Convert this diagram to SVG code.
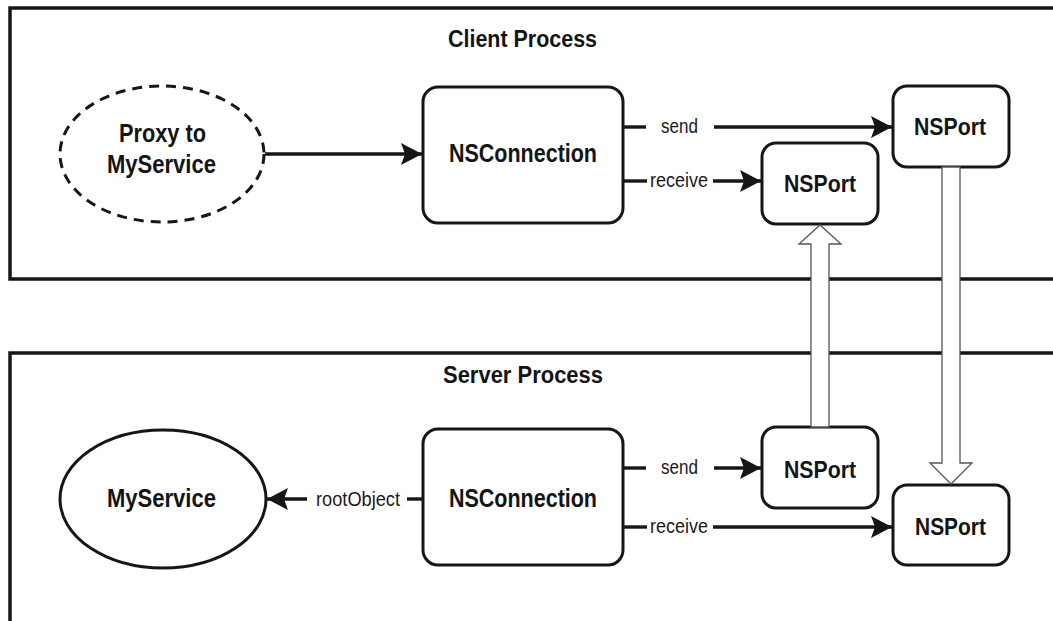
<svg xmlns="http://www.w3.org/2000/svg" width="1053" height="621" viewBox="0 0 1053 621">
  <style>
    .panel { fill: none; stroke: #161616; stroke-width: 3.5; }
    .box { fill: #fff; stroke: #161616; stroke-width: 3; }
    .wire { fill: none; stroke: #161616; stroke-width: 3.4; }
    .hollow { fill: #fff; stroke: #555; stroke-width: 1.3; stroke-linejoin: miter; }
    .title { font-family: "Liberation Sans Narrow", "Liberation Sans", Arial, sans-serif; font-weight: bold; font-size: 23.5px; fill: #141414; }
    .name { font-family: "Liberation Sans Narrow", "Liberation Sans", Arial, sans-serif; font-weight: bold; font-size: 26px; fill: #141414; }
    .port { font-size: 24.5px; }
    .label { font-family: "Liberation Sans Narrow", "Liberation Sans", Arial, sans-serif; font-size: 20px; fill: #1a1a1a; }
  </style>
  <defs>
    <marker id="head" markerUnits="userSpaceOnUse" markerWidth="24" markerHeight="24" refX="21" refY="11" orient="auto">
      <path d="M0,0 L21,11 L0,22 L4,11 z" fill="#161616"/>
    </marker>
  </defs>

  <rect width="1053" height="621" fill="#fff"/>

  <!-- process panels (open on the right) -->
  <g id="client-process">
    <path class="panel" d="M1053,8 H10 V279 H1053"/>
    <text class="title" x="448" y="47" textLength="149" lengthAdjust="spacingAndGlyphs">Client Process</text>
  </g>
  <g id="server-process">
    <path class="panel" d="M1053,353 H10 V621"/>
    <text class="title" x="443" y="383" textLength="160" lengthAdjust="spacingAndGlyphs">Server Process</text>
  </g>

  <!-- client side nodes -->
  <g id="proxy">
    <ellipse cx="162" cy="154" rx="102" ry="68" fill="#fff" stroke="#161616" stroke-width="3" stroke-dasharray="10,7"/>
    <text class="name" x="119" y="142" textLength="87" lengthAdjust="spacingAndGlyphs">Proxy to</text>
    <text class="name" x="107" y="173" textLength="109" lengthAdjust="spacingAndGlyphs">MyService</text>
  </g>
  <g id="client-connection">
    <rect class="box" x="423" y="87" width="200" height="136" rx="15"/>
    <text class="name" x="449" y="162" textLength="148" lengthAdjust="spacingAndGlyphs">NSConnection</text>
  </g>
  <g id="client-receive-port">
    <rect class="box" x="762" y="143" width="116" height="81" rx="14"/>
    <text class="name port" x="784" y="192" textLength="72" lengthAdjust="spacingAndGlyphs">NSPort</text>
  </g>
  <g id="client-send-port">
    <rect class="box" x="893" y="86" width="116" height="81" rx="14"/>
    <text class="name port" x="914" y="135" textLength="72" lengthAdjust="spacingAndGlyphs">NSPort</text>
  </g>

  <!-- server side nodes -->
  <g id="myservice">
    <ellipse cx="163" cy="499" rx="103" ry="69" fill="#fff" stroke="#161616" stroke-width="3"/>
    <text class="name" x="107" y="507" textLength="109" lengthAdjust="spacingAndGlyphs">MyService</text>
  </g>
  <g id="server-connection">
    <rect class="box" x="423" y="429" width="200" height="136" rx="15"/>
    <text class="name" x="449" y="507" textLength="148" lengthAdjust="spacingAndGlyphs">NSConnection</text>
  </g>
  <g id="server-send-port">
    <rect class="box" x="762" y="427" width="116" height="81" rx="14"/>
    <text class="name port" x="784" y="478" textLength="72" lengthAdjust="spacingAndGlyphs">NSPort</text>
  </g>
  <g id="server-receive-port">
    <rect class="box" x="893" y="485" width="116" height="80" rx="14"/>
    <text class="name port" x="915" y="535" textLength="71" lengthAdjust="spacingAndGlyphs">NSPort</text>
  </g>

  <g id="connectors">
    <!-- proxy to client connection -->
    <line class="wire" x1="265" y1="154" x2="422" y2="154" marker-end="url(#head)"/>

    <!-- client send / receive -->
    <line class="wire" x1="623" y1="127" x2="646" y2="127"/>
    <text class="label" x="661" y="133" textLength="37" lengthAdjust="spacingAndGlyphs">send</text>
    <line class="wire" x1="714" y1="127" x2="892" y2="127" marker-end="url(#head)"/>
    <line class="wire" x1="623" y1="181" x2="647" y2="181"/>
    <text class="label" x="650" y="187" textLength="58" lengthAdjust="spacingAndGlyphs">receive</text>
    <line class="wire" x1="713" y1="181" x2="761" y2="181" marker-end="url(#head)"/>

    <!-- rootObject -->
    <line class="wire" x1="423" y1="499" x2="407" y2="499"/>
    <text class="label" x="316" y="506" textLength="84" lengthAdjust="spacingAndGlyphs">rootObject</text>
    <line class="wire" x1="307" y1="499" x2="267" y2="499" marker-end="url(#head)"/>

    <!-- server send / receive -->
    <line class="wire" x1="623" y1="468" x2="646" y2="468"/>
    <text class="label" x="661" y="474" textLength="37" lengthAdjust="spacingAndGlyphs">send</text>
    <line class="wire" x1="714" y1="468" x2="761" y2="468" marker-end="url(#head)"/>
    <line class="wire" x1="623" y1="527" x2="647" y2="527"/>
    <text class="label" x="650" y="533" textLength="58" lengthAdjust="spacingAndGlyphs">receive</text>
    <line class="wire" x1="713" y1="527" x2="892" y2="527" marker-end="url(#head)"/>

    <!-- hollow transport arrows between processes -->
    <polygon class="hollow" points="811,427 811,244 799,244 820,225 841,244 829,244 829,427"/>
    <polygon class="hollow" points="942,167 942,463 930,463 951,484 972,463 960,463 960,167"/>
  </g>
</svg>
